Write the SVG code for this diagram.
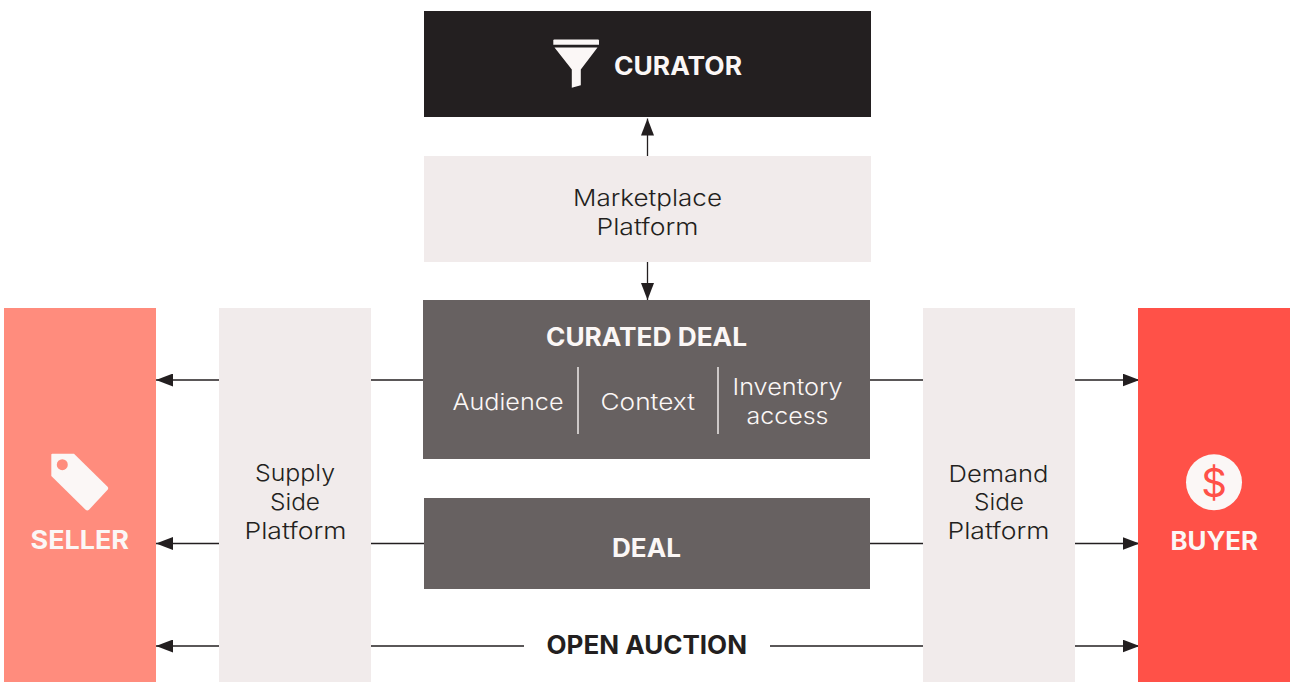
<svg xmlns="http://www.w3.org/2000/svg" width="1290" height="682" viewBox="0 0 1290 682">
  <style>
    text { font-family: "Inter", "Liberation Sans", sans-serif; }
    .t { font-size: 23px; font-weight: 300; fill: #231f20; }
    .tw { font-size: 23px; font-weight: 300; fill: #fbf7f6; }
    .b { font-size: 25px; font-weight: 700; fill: #fbf7f6; }
    .bd { font-size: 25px; font-weight: 700; fill: #231f20; }
    .pale { fill: #f1ebeb; }
    .grey { fill: #676161; }
    .icon { fill: #fbf7f6; }
    .c line { stroke: #231f20; stroke-width: 1.3; fill: none; }
    .div { stroke: #f8f4f3; stroke-width: 1.4; }
  </style>
  <defs>
    <marker id="arrow" viewBox="0 0 17 13" markerUnits="userSpaceOnUse" markerWidth="17" markerHeight="13" refX="17" refY="6.5" orient="auto">
      <path d="M0 0L17 6.5L0 13Z" fill="#231f20"/>
    </marker>
  </defs>
  <rect width="1290" height="682" fill="#ffffff"/>

  <g id="connectors" class="c">
    <line x1="647.5" y1="156" x2="647.5" y2="118.5" marker-end="url(#arrow)"/>
    <line x1="647.5" y1="262" x2="647.5" y2="300" marker-end="url(#arrow)"/>
    <line x1="423" y1="380" x2="371" y2="380"/>
    <line x1="219" y1="380" x2="156" y2="380" marker-end="url(#arrow)"/>
    <line x1="424" y1="543.5" x2="371" y2="543.5"/>
    <line x1="219" y1="543.5" x2="156" y2="543.5" marker-end="url(#arrow)"/>
    <line x1="524" y1="646" x2="371" y2="646"/>
    <line x1="219" y1="646" x2="156" y2="646" marker-end="url(#arrow)"/>
    <line x1="870" y1="380" x2="923" y2="380"/>
    <line x1="1075" y1="380" x2="1139.5" y2="380" marker-end="url(#arrow)"/>
    <line x1="870" y1="543.5" x2="923" y2="543.5"/>
    <line x1="1075" y1="543.5" x2="1139.5" y2="543.5" marker-end="url(#arrow)"/>
    <line x1="770" y1="646" x2="923" y2="646"/>
    <line x1="1075" y1="646" x2="1139.5" y2="646" marker-end="url(#arrow)"/>
  </g>

  <g id="curator">
    <rect x="424" y="11" width="447" height="106" fill="#231f20"/>
    <path class="icon" d="M553.3 40.5a1 1 0 0 1 1-1H598a1 1 0 0 1 1 1V44.700H553.300Z"/>
    <path class="icon" d="M554.500 47.500H597.500L580.800 69.500V85.300L571.800 87.800V69.500Z"/>
    <text class="b" x="614" y="75" textLength="128" lengthAdjust="spacingAndGlyphs">CURATOR</text>
  </g>

  <g id="marketplace-platform">
    <rect class="pale" x="424" y="156" width="447" height="106"/>
    <text class="t" x="573" y="206" textLength="149" lengthAdjust="spacingAndGlyphs">Marketplace</text>
    <text class="t" x="596.500" y="235" textLength="102" lengthAdjust="spacingAndGlyphs">Platform</text>
  </g>

  <g id="curated-deal">
    <rect class="grey" x="423" y="300" width="447" height="159"/>
    <text class="b" x="546" y="346" textLength="201" lengthAdjust="spacingAndGlyphs">CURATED DEAL</text>
    <text class="tw" x="452.500" y="410" textLength="111" lengthAdjust="spacingAndGlyphs">Audience</text>
    <line class="div" x1="578" y1="367" x2="578" y2="434"/>
    <text class="tw" x="600.500" y="410" textLength="94.500" lengthAdjust="spacingAndGlyphs">Context</text>
    <line class="div" x1="718" y1="367" x2="718" y2="434"/>
    <text class="tw" x="732.500" y="395" textLength="110" lengthAdjust="spacingAndGlyphs">Inventory</text>
    <text class="tw" x="746.500" y="424" textLength="82" lengthAdjust="spacingAndGlyphs">access</text>
  </g>

  <g id="deal">
    <rect class="grey" x="424" y="498" width="446" height="91"/>
    <text class="b" x="612" y="557" textLength="69" lengthAdjust="spacingAndGlyphs">DEAL</text>
  </g>

  <g id="open-auction">
    <text class="bd" x="546.500" y="654" textLength="200.500" lengthAdjust="spacingAndGlyphs">OPEN AUCTION</text>
  </g>

  <g id="seller">
    <rect x="4" y="308" width="152" height="374" fill="#ff8c7d"/>
    <path class="icon" d="M52.300 453.700H74L107.600 486.800Q108.800 488.300 107.600 489.800L89 509.800Q87.300 511.400 85.600 509.800L51.300 476V454.700Q51.300 453.700 52.300 453.700Z"/>
    <circle cx="62.300" cy="464.700" r="5.500" fill="#ff8c7d"/>
    <text class="b" x="30.500" y="549" textLength="98.500" lengthAdjust="spacingAndGlyphs">SELLER</text>
  </g>

  <g id="supply-side-platform">
    <rect class="pale" x="219" y="308" width="152" height="374"/>
    <text class="t" x="255" y="481" textLength="80" lengthAdjust="spacingAndGlyphs">Supply</text>
    <text class="t" x="270" y="510" textLength="50" lengthAdjust="spacingAndGlyphs">Side</text>
    <text class="t" x="244.500" y="539" textLength="102" lengthAdjust="spacingAndGlyphs">Platform</text>
  </g>

  <g id="demand-side-platform">
    <rect class="pale" x="923" y="308" width="152" height="374"/>
    <text class="t" x="948.500" y="482" textLength="100" lengthAdjust="spacingAndGlyphs">Demand</text>
    <text class="t" x="974" y="510" textLength="50" lengthAdjust="spacingAndGlyphs">Side</text>
    <text class="t" x="947.500" y="539" textLength="102" lengthAdjust="spacingAndGlyphs">Platform</text>
  </g>

  <g id="buyer">
    <rect x="1138" y="308" width="152" height="374" fill="#ff5148"/>
    <circle class="icon" cx="1214" cy="482.300" r="28"/>
    <text x="1214" y="497" text-anchor="middle" font-size="40" font-weight="400" fill="#ff5148">$</text>
    <text class="b" x="1170.500" y="550" textLength="87.500" lengthAdjust="spacingAndGlyphs">BUYER</text>
  </g>
</svg>
